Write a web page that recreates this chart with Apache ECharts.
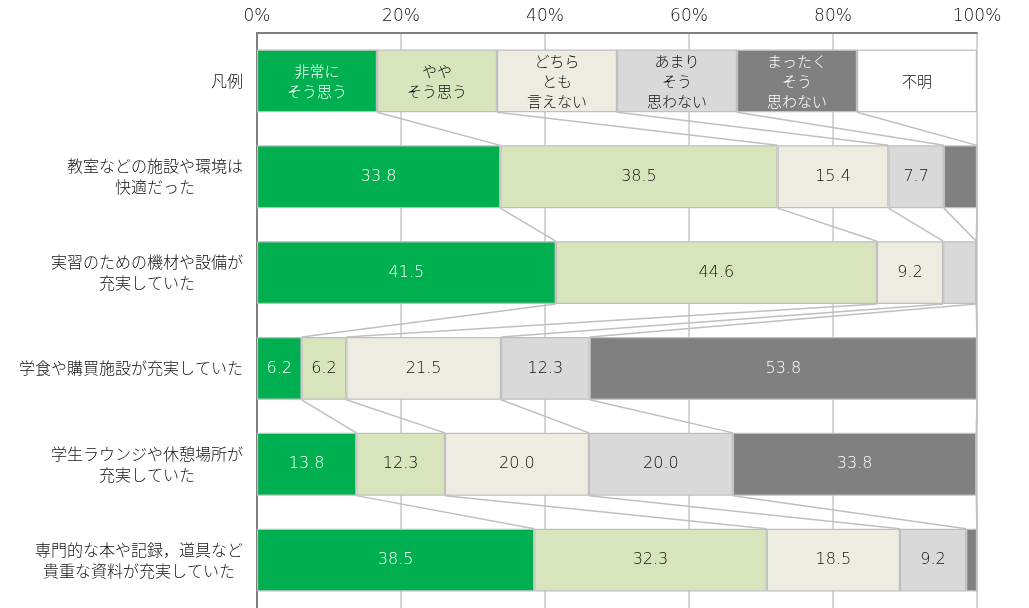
<!DOCTYPE html>
<html>
<head>
<meta charset="utf-8">
<script src="https://cdn.jsdelivr.net/npm/echarts@6/dist/echarts.min.js"></script>
<style>
html,body{margin:0;padding:0;background:#fff;}
#chart{width:1029px;height:608px;}
</style>
</head>
<body>
<div id="chart"></div>
<script>
const categories = [
  '凡例',
  '教室などの施設や環境は\n快適だった',
  '実習のための機材や設備が\n充実していた',
  '学食や購買施設が充実していた',
  '学生ラウンジや休憩場所が\n充実していた',
  '専門的な本や記録，道具など\n貴重な資料が充実していた'
];
const seriesNames = [
  '非常に\nそう思う',
  'やや\nそう思う',
  'どちら\nとも\n言えない',
  'あまり\nそう\n思わない',
  'まったく\nそう\n思わない',
  '不明'
];
const tickLabels = ['0%', '20%', '40%', '60%', '80%', '100%'];
// legend row: equal shares
const legendRow = [100/6, 100/6, 100/6, 100/6, 100/6, 100/6];
// data rows (5 questions)
const veryAgree    = [33.8, 41.5, 6.2, 13.8, 38.5];
const agree        = [38.5, 44.6, 6.2, 12.3, 32.3];
const neutral      = [15.4, 9.2, 21.5, 20.0, 18.5];
const disagree     = [7.7, 4.6, 12.3, 20.0, 9.2];
const stronglyDis  = [4.6, 0, 53.8, 33.8, 1.5];
const unknown      = [0, 0, 0, 0, 0];

const dataSets = [veryAgree, agree, neutral, disagree, stronglyDis, unknown];
const colors = ['#00B050', '#D8E4BC', '#EEECE1', '#D9D9D9', '#808080', '#FFFFFF'];
const labelColors = ['#ffffff', '#111111', '#111111', '#111111', '#ffffff', '#111111'];
const FONT = '"Noto Sans CJK JP", "Noto Sans", sans-serif';
const NUMFONT = '"DejaVu Sans", "Noto Sans CJK JP", sans-serif';
const BAR_RATIO = 0.655;

const rows = categories.map((c, i) => dataSets.map((d, s) => i === 0 ? legendRow[s] : d[i - 1]));

const barSeries = seriesNames.map((name, s) => ({
  name: name,
  type: 'bar',
  stack: 'total',
  barWidth: (BAR_RATIO * 100) + '%',
  data: rows.map(r => r[s]),
  itemStyle: { color: colors[s], borderColor: '#BFBFBF', borderWidth: 1.2 },
  label: {
    show: true,
    position: 'inside',
    color: labelColors[s],
    fontFamily: NUMFONT,
    fontSize: 16,
    fontWeight: 200,
    formatter: p => {
      if (p.dataIndex === 0) return '{l|' + name + '}';
      return p.value >= 5 ? p.value.toFixed(1) : '';
    },
    rich: { l: { fontSize: 15, lineHeight: 20, fontFamily: FONT, fontWeight: 300, color: labelColors[s] } }
  },
  emphasis: { disabled: true },
  z: 3
}));

// connector lines between consecutive rows
const connData = [];
for (let i = 0; i < rows.length - 1; i++) {
  let a = 0, b = 0;
  for (let s = 0; s < 5; s++) {
    a += rows[i][s];
    b += rows[i + 1][s];
    connData.push([Math.min(a, 100), i, Math.min(b, 100)]);
  }
}

const connSeries = {
  type: 'custom',
  data: connData,
  encode: { x: [0, 2], y: 1 },
  silent: true,
  z: 2,
  renderItem: function (params, api) {
    const i = api.value(1);
    const p1 = api.coord([api.value(0), i]);
    const p2 = api.coord([api.value(2), i + 1]);
    const band = api.size([0, 1])[1];
    const half = band * BAR_RATIO / 2;
    return {
      type: 'line',
      shape: { x1: p1[0], y1: p1[1] + half, x2: p2[0], y2: p2[1] - half },
      style: { stroke: '#BFBFBF', lineWidth: 1.5 }
    };
  }
};

const chart = echarts.init(document.getElementById('chart'));
chart.setOption({
  animation: false,
  backgroundColor: '#ffffff',
  grid: { left: 257, right: 52, top: 33, bottom: 0 },
  xAxis: {
    type: 'value',
    position: 'top',
    min: 0, max: 100, interval: 20,
    axisLine: { show: true, lineStyle: { color: '#808080', width: 2 } },
    axisTick: { show: false },
    splitLine: { show: true, lineStyle: { color: '#C8C8C8', width: 1.5 } },
    axisLabel: {
      color: '#111', fontSize: 17, fontWeight: 200, fontFamily: NUMFONT, margin: 8,
      formatter: v => tickLabels[Math.round(v / 20)]
    }
  },
  yAxis: {
    type: 'category',
    inverse: true,
    data: categories,
    axisLine: { show: true, lineStyle: { color: '#808080', width: 2 } },
    axisTick: { show: false },
    axisLabel: {
      margin: 14,
      align: 'right',
      formatter: v => v.split('\n').map(l => '{c|' + l + '}').join('\n'),
      rich: { c: { align: 'center', fontSize: 16, lineHeight: 21, fontWeight: 300, color: '#111', fontFamily: FONT } }
    }
  },
  series: [connSeries, ...barSeries]
});
</script>
</body>
</html>
